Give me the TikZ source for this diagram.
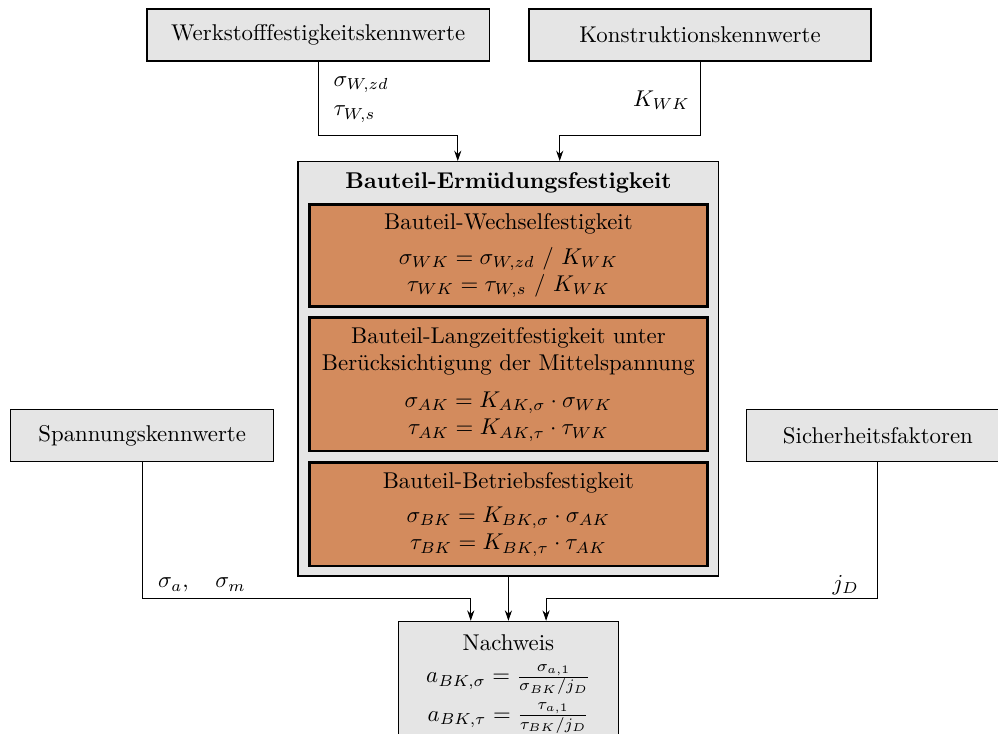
\documentclass[tikz,border=0pt]{standalone}
\usepackage{fontspec}
\usepackage{tikz}
\usetikzlibrary{arrows.meta,positioning,calc}
\tikzset{>={Stealth[length=1.6mm,width=1.1mm]}}
\definecolor{bauteilorange}{RGB}{211,139,93}

\begin{document}
\begin{tikzpicture}[
    kenn/.style={draw, semithick, fill=black!10, minimum height=8mm, inner sep=2pt},
    stufe/.style={draw, very thick, fill=bauteilorange, minimum width=6.13cm, align=center, inner sep=2pt},
    flow/.style={->, thin},
    lbl/.style={inner sep=0pt}
  ]
    \useasboundingbox (0,0) rectangle (15.37,-11.29);

    % Eingangsgroessen
    \node[kenn, minimum width=5.27cm] (werk)  at (4.90,-0.54)  {Werkstofffestigkeitskennwerte};
    \node[kenn, minimum width=5.27cm] (konst) at (10.78,-0.54) {Konstruktionskennwerte};
    \node[kenn, minimum width=4.05cm] (span)  at (2.19,-6.71)  {Spannungskennwerte};
    \node[kenn, minimum width=4.05cm] (sich)  at (13.52,-6.71) {Sicherheitsfaktoren};

    % Bauteil-Ermuedungsfestigkeit
    \node[kenn, minimum width=6.48cm, minimum height=6.38cm] (bef) at (7.83,-5.68) {};
    \node[lbl] (beft) at (7.83,-2.82) {\textbf{Bauteil-Ermüdungsfestigkeit}};
    \node[stufe, minimum height=1.57cm] (wk) at (7.83,-3.94)
      {Bauteil-Wechselfestigkeit\\[3pt]
       $\sigma_{WK} = \sigma_{W,zd}\ /\ K_{WK}$\\
       $\tau_{WK} = \tau_{W,s}\ /\ K_{WK}$};
    \node[stufe, minimum height=2.05cm] (ak) at (7.83,-5.92)
      {Bauteil-Langzeitfestigkeit unter\\
       Berücksichtigung der Mittelspannung\\[4pt]
       $\sigma_{AK} = K_{AK,\sigma} \cdot \sigma_{WK}$\\
       $\tau_{AK} = K_{AK,\tau} \cdot \tau_{WK}$};
    \node[stufe, minimum height=1.59cm] (bk) at (7.83,-7.92)
      {Bauteil-Betriebsfestigkeit\\[3pt]
       $\sigma_{BK} = K_{BK,\sigma} \cdot \sigma_{AK}$\\
       $\tau_{BK} = K_{BK,\tau} \cdot \tau_{AK}$};

    % Nachweis
    \node[kenn, anchor=north, minimum width=3.39cm, align=center, inner ysep=6pt] (nw) at (7.83,-9.56)
      {Nachweis\\[2pt]
       $a_{BK,\sigma} = \frac{\sigma_{a,1}}{\sigma_{BK}/j_D}$\\[2.5pt]
       $a_{BK,\tau} = \frac{\tau_{a,1}}{\tau_{BK}/j_D}$};

    % Knickpunkte
    \coordinate (ow) at (7.05,-2.09);
    \coordinate (ok) at (8.62,-2.09);
    \coordinate (us) at (7.25,-9.22);
    \coordinate (uj) at (8.41,-9.22);

    \draw[flow] (werk.south) |- (ow) -- (ow |- bef.north);
    \draw[flow] (konst.south) |- (ok) -- (ok |- bef.north);
    \draw[flow] (span.south) |- (us) -- (us |- nw.north);
    \draw[flow] (sich.south) |- (uj) -- (uj |- nw.north);
    \draw[flow] (bef.south) -- (nw.north);

    % Kennwerte an den Linien
    \node[lbl, anchor=west, align=left] (wl) at (5.13,-1.53) {$\sigma_{W,zd}$\\[1pt]$\tau_{W,s}$};
    \node[lbl, anchor=east] (kl) at (10.63,-1.54) {$K_{WK}$};
    \node[lbl, anchor=west] (sl) at (2.43,-9.01) {$\sigma_a, \quad \sigma_m$};
    \node[lbl, anchor=east] (jl) at (13.23,-9.01) {$j_D$};
  \end{tikzpicture}
\end{document}
